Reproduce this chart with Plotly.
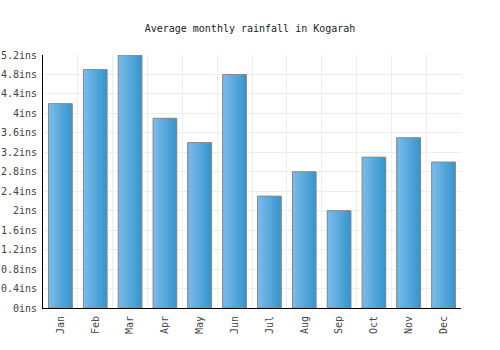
import plotly.graph_objects as go

months = ["Jan", "Feb", "Mar", "Apr", "May", "Jun", "Jul", "Aug", "Sep", "Oct", "Nov", "Dec"]
rainfall = [4.2, 4.9, 5.2, 3.9, 3.4, 4.8, 2.3, 2.8, 2.0, 3.1, 3.5, 3.0]
y_ticks = [0, 0.4, 0.8, 1.2, 1.6, 2.0, 2.4, 2.8, 3.2, 3.6, 4.0, 4.4, 4.8, 5.2]

title = "Average monthly rainfall in Kogarah"

left_rgb = (122, 188, 235)
right_rgb = (56, 150, 206)
n_slices = 14
bar_w = 0.68

fig = go.Figure()
for k in range(n_slices):
    t = k / (n_slices - 1)
    c = tuple(round(left_rgb[i] + (right_rgb[i] - left_rgb[i]) * t) for i in range(3))
    fig.add_trace(go.Bar(
        x=months, y=rainfall,
        width=bar_w / n_slices + 0.004,
        offset=-bar_w / 2 + k * bar_w / n_slices,
        marker=dict(color="rgb(%d,%d,%d)" % c, line=dict(width=0)),
        showlegend=False, hoverinfo="skip",
    ))
fig.add_trace(go.Bar(
    x=months, y=rainfall, width=bar_w, offset=-bar_w / 2,
    marker=dict(color="rgba(0,0,0,0)", line=dict(color="#888888", width=1)),
    showlegend=False,
))

fig.update_layout(
    width=500, height=350,
    margin=dict(l=43, r=39, t=55, b=42),
    barmode="overlay",
    paper_bgcolor="white", plot_bgcolor="white",
    font=dict(family="DejaVu Sans Mono", size=10, color="#333333"),
    title=dict(text=title, x=0.5, xanchor="center", y=1 - 28 / 350, yanchor="middle",
               font=dict(family="DejaVu Sans Mono", size=10, color="#222222")),
    xaxis=dict(
        type="category", tickangle=-90, tickson="boundaries",
        showgrid=True, gridcolor="#eeeeee", gridwidth=1,
        showline=True, linecolor="#000000", linewidth=1,
        ticks="", range=[-0.5, 11.5], automargin=False,
        ticklabelstandoff=3,
        tickfont=dict(size=10, color="#444444"),
    ),
    yaxis=dict(
        range=[0, 5.2], tickvals=y_ticks,
        ticktext=[("%g" % v) + "ins" for v in y_ticks],
        showgrid=True, gridcolor="#eeeeee", gridwidth=1,
        showline=True, linecolor="#000000", linewidth=1,
        zeroline=False, ticks="", automargin=False,
        ticklabelstandoff=3,
        tickfont=dict(size=10, color="#444444"),
    ),
)

fig.write_html("out.html")
